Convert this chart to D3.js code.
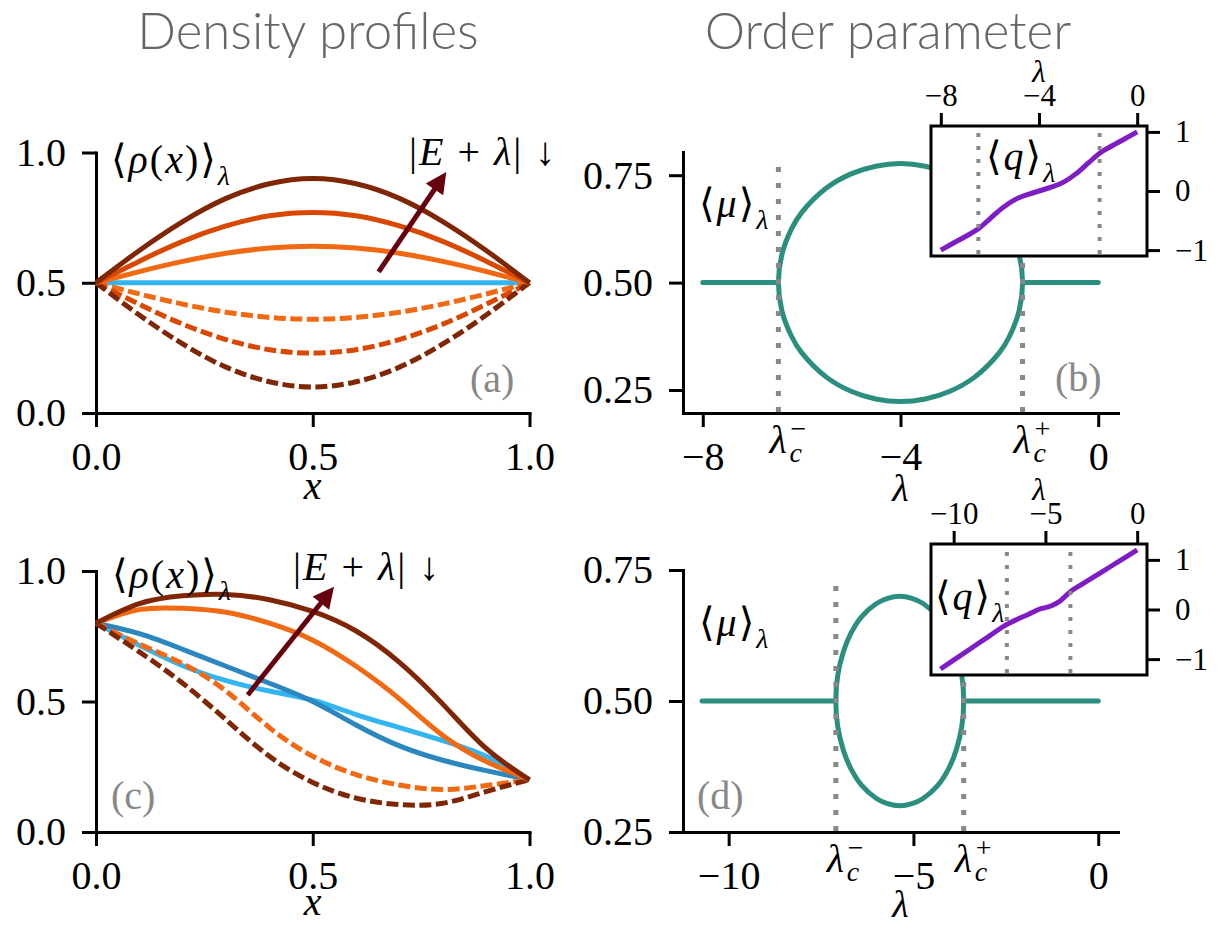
<!DOCTYPE html>
<html>
<head>
<meta charset="utf-8">
<script src="https://cdn.jsdelivr.net/npm/d3@7"></script>
<style>
body { margin: 0; background: #fff; }
svg text { white-space: pre; }
</style>
</head>
<body>
<svg width="1219" height="925"></svg>
<script>
var svg = d3.select("svg");
var serif = "'Liberation Serif', 'Times New Roman', 'DejaVu Serif', 'Noto Serif', serif";

// ---- data ----
// panels (a) and (c): density profiles on a grid of x
var xGrid = [0, 0.1, 0.2, 0.3, 0.4, 0.5, 0.6, 0.7, 0.8, 0.9, 1];

var rhoA_flat = [0.5, 0.5, 0.5, 0.5, 0.5, 0.5, 0.5, 0.5, 0.5, 0.5, 0.5];
var rhoA_up1 = [0.5, 0.543, 0.582, 0.613, 0.633, 0.64, 0.633, 0.613, 0.582, 0.543, 0.5];
var rhoA_up2 = [0.5, 0.583, 0.659, 0.718, 0.757, 0.77, 0.757, 0.718, 0.659, 0.583, 0.5];
var rhoA_up3 = [0.5, 0.624, 0.735, 0.824, 0.88, 0.9, 0.88, 0.824, 0.735, 0.624, 0.5];
var rhoA_dn1 = [0.5, 0.457, 0.418, 0.387, 0.367, 0.36, 0.367, 0.387, 0.418, 0.457, 0.5];
var rhoA_dn2 = [0.5, 0.417, 0.341, 0.282, 0.243, 0.23, 0.243, 0.282, 0.341, 0.417, 0.5];
var rhoA_dn3 = [0.5, 0.376, 0.265, 0.176, 0.12, 0.1, 0.12, 0.176, 0.265, 0.376, 0.5];

var rhoC_light = [0.8, 0.715, 0.637, 0.58, 0.54, 0.505, 0.45, 0.4, 0.35, 0.29, 0.2];
var rhoC_blue  = [0.8, 0.76, 0.7, 0.635, 0.57, 0.5, 0.41, 0.33, 0.275, 0.235, 0.2];
var rhoC_up1   = [0.8, 0.852, 0.857, 0.842, 0.8, 0.735, 0.635, 0.51, 0.37, 0.27, 0.2];
var rhoC_up2   = [0.8, 0.875, 0.905, 0.91, 0.89, 0.845, 0.77, 0.65, 0.49, 0.32, 0.2];
var rhoC_dn1   = [0.8, 0.72, 0.645, 0.54, 0.4, 0.29, 0.22, 0.18, 0.163, 0.178, 0.2];
var rhoC_dn2   = [0.8, 0.69, 0.57, 0.43, 0.29, 0.19, 0.13, 0.105, 0.11, 0.155, 0.2];

// arrows |E+lambda| decreasing: [tail, tip] in data units
var arrowA_x = [0.652, 0.808], arrowA_y = [0.542, 0.925];
var arrowC_x = [0.35, 0.549],  arrowC_y = [0.525, 0.94];

// panel (b): order parameter mu
var lamRangeB = [-8, 0];
var lamCritB = [-6.47, -1.53];
var loopLamB = [-6.47, -6.4, -6.2, -6, -5.5, -5, -4.5, -4, -3.5, -3, -2.5, -2, -1.8, -1.6, -1.53,
                -1.6, -1.8, -2, -2.5, -3, -3.5, -4, -4.5, -5, -5.5, -6, -6.2, -6.4];
var loopMuB  = [0.5, 0.565, 0.626, 0.663, 0.72, 0.753, 0.771, 0.777, 0.771, 0.753, 0.72, 0.663, 0.626, 0.565, 0.5,
                0.435, 0.374, 0.337, 0.28, 0.247, 0.229, 0.223, 0.229, 0.247, 0.28, 0.337, 0.374, 0.435];
var dotTopB = 0.785;
// inset (b): q
var qLamB = [-8, -7.5, -7, -6.47, -6, -5.5, -5, -4.5, -4, -3.5, -3, -2.5, -2, -1.53, -1, -0.5, 0];
var qValB = [-1, -0.885, -0.77, -0.64, -0.47, -0.29, -0.15, -0.065, 0, 0.065, 0.15, 0.29, 0.47, 0.64, 0.77, 0.885, 1];

// panel (d)
var lamRangeD = [-10.72, 0];
var lamCritD = [-7.1, -3.64];
var loopLamD = [-7.1, -7.05, -6.9, -6.7, -6.4, -6, -5.7, -5.37, -5.04, -4.74, -4.34, -4.04, -3.84, -3.69, -3.64,
                -3.69, -3.84, -4.04, -4.34, -4.74, -5.04, -5.37, -5.7, -6, -6.4, -6.7, -6.9, -7.05];
var loopMuD  = [0.5, 0.548, 0.593, 0.628, 0.661, 0.686, 0.696, 0.7, 0.696, 0.686, 0.661, 0.628, 0.593, 0.548, 0.5,
                0.452, 0.407, 0.372, 0.339, 0.314, 0.304, 0.3, 0.304, 0.314, 0.339, 0.372, 0.407, 0.452];
var dotTopD = 0.734;
var qLamD = [-10.72, -10, -9, -8, -7.1, -6.5, -6, -5.37, -4.7, -4.2, -3.64, -3, -2, -1, 0];
var qValD = [-1.2, -1.02, -0.77, -0.52, -0.3, -0.19, -0.11, 0, 0.07, 0.17, 0.36, 0.51, 0.74, 0.97, 1.2];

// tick values
var rhoTicks = [0, 0.5, 1];
var muTicks = [0.25, 0.5, 0.75];
var lamTicksB = [-8, -4, 0];
var lamTicksD = [-10, -5, 0];
var qTicks = [-1, 0, 1];

// ---- colours ----
var cDark = "#7f2704", cMid = "#d94801", cLight = "#f16913";
var cSky = "#33b5f2", cBlue = "#2b87bd", cTeal = "#2b8e7e", cPurple = "#7e1dc4";
var cDot = "#888888", cArrow = "#67000d";

// ---- helpers ----
function styleAxis(sel, fs) {
  sel.attr("font-family", null).attr("font-size", null);
  sel.select(".domain").attr("stroke-width", 3).attr("stroke-linecap", "square");
  sel.selectAll(".tick line").attr("stroke-width", 3);
  sel.selectAll(".tick text").style("font-family", serif).style("font-size", fs + "px").attr("fill", "#000");
}

function txt(x, y, s, fs) {
  return svg.append("text").attr("x", x).attr("y", y).style("font-family", serif)
    .style("font-size", fs + "px").text(s);
}

function frame(x, y, xt, xf, yt, yf) {
  svg.append("g")
    .attr("transform", "translate(0," + y.range()[0] + ")")
    .call(d3.axisBottom(x).tickValues(xt).tickFormat(xf).tickSizeInner(14).tickSizeOuter(0).tickPadding(15))
    .call(styleAxis, 40);
  svg.append("g")
    .attr("transform", "translate(" + x.range()[0] + ",0)")
    .call(d3.axisLeft(y).tickValues(yt).tickFormat(yf).tickSizeInner(14).tickSizeOuter(0).tickPadding(16))
    .call(styleAxis, 40);
}

function mathText(x, y, parts, fs, fill) {
  var t = svg.append("text").attr("x", x).attr("y", y).style("font-family", serif)
    .style("font-size", fs + "px").attr("fill", fill || "#000");
  parts.forEach(function(p) {
    var s = t.append("tspan").text(p.t);
    if (p.i) s.style("font-style", "italic");
    if (p.sub) s.attr("dy", fs * 0.3).style("font-size", (fs * 0.7) + "px");
  });
  return t;
}

function arrow(x, y, ax, ay) {
  var x0 = x(ax[0]), y0 = y(ay[0]), x1 = x(ax[1]), y1 = y(ay[1]);
  var dx = x1 - x0, dy = y1 - y0, L = Math.sqrt(dx * dx + dy * dy);
  var ux = dx / L, uy = dy / L, hl = 21, hw = 10.5;
  var bx = x1 - ux * hl, by = y1 - uy * hl;
  svg.append("line").attr("x1", x0).attr("y1", y0).attr("x2", bx + ux * 2).attr("y2", by + uy * 2)
    .attr("stroke", cArrow).attr("stroke-width", 5);
  svg.append("polygon")
    .attr("points", [[x1, y1], [bx - uy * hw, by + ux * hw], [bx + uy * hw, by - ux * hw]].join(" "))
    .attr("fill", cArrow);
}

function rhoPanel(x, y, series) {
  var line = d3.line().x(function(d, i) { return x(xGrid[i]); }).y(function(d) { return y(d); })
    .curve(d3.curveNatural);
  svg.append("g").selectAll("path")
    .data(series)
    .enter().append("path")
    .attr("d", function(s) { return line(s.v); })
    .attr("fill", "none")
    .attr("stroke", function(s) { return s.c; })
    .attr("stroke-width", 5)
    .attr("stroke-dasharray", function(s) { return s.dash ? "12,4.5" : null; });
}

function critLabel(px, y0, sign) {
  txt(px - 9, y0, "\u03bb", 40).style("font-style", "italic");
  txt(px + 11, y0 + 9, "c", 28).style("font-style", "italic");
  txt(px + 12, y0 - 15, sign, 28);
}

function muPanel(x, y, range, crit, loopLam, loopMu, dotTop, xt, labDy) {
  frame(x, y, xt, d3.format("d"), muTicks, d3.format(".2f"));
  var seg = d3.line().x(function(d) { return x(d[0]); }).y(function(d) { return y(d[1]); });
  [[[range[0], 0.5], [crit[0], 0.5]], [[crit[1], 0.5], [range[1], 0.5]]].forEach(function(s) {
    svg.append("path").attr("d", seg(s)).attr("fill", "none").attr("stroke", cTeal)
      .attr("stroke-width", 5).attr("stroke-linecap", "round");
  });
  var loop = d3.line().x(function(d, i) { return x(loopLam[i]); }).y(function(d) { return y(d); })
    .curve(d3.curveCatmullRomClosed.alpha(0.5));
  svg.append("path").attr("d", loop(loopMu)).attr("fill", "none").attr("stroke", cTeal).attr("stroke-width", 5);
  crit.forEach(function(c) {
    svg.append("line").attr("x1", x(c)).attr("x2", x(c)).attr("y1", y.range()[0] - 1).attr("y2", y(dotTop))
      .attr("stroke", cDot).attr("stroke-width", 5).attr("stroke-dasharray", "5,11");
  });
  critLabel(x(crit[0]), y.range()[0] + 40, "\u2212");
  critLabel(x(crit[1]), y.range()[0] + 40, "+");
  txt((x.range()[0] + x.range()[1]) / 2, y.range()[0] + labDy, "\u03bb", 38)
    .attr("text-anchor", "middle").style("font-style", "italic");
}

function inset(x, y, lam, q, crit, xt) {
  var x0 = x.range()[0], x1 = x.range()[1], yb = y.range()[0], yt = y.range()[1];
  svg.append("rect").attr("x", x0).attr("y", yt).attr("width", x1 - x0).attr("height", yb - yt).attr("fill", "#fff");
  var ln = d3.line().x(function(d, i) { return x(lam[i]); }).y(function(d) { return y(d); }).curve(d3.curveMonotoneX);
  svg.append("path").attr("d", ln(q)).attr("fill", "none").attr("stroke", cPurple).attr("stroke-width", 5);
  crit.forEach(function(c) {
    svg.append("line").attr("x1", x(c)).attr("x2", x(c)).attr("y1", yb - 2).attr("y2", y(d3.max(q)))
      .attr("stroke", cDot).attr("stroke-width", 4).attr("stroke-dasharray", "4,9");
  });
  svg.append("rect").attr("x", x0).attr("y", yt).attr("width", x1 - x0).attr("height", yb - yt)
    .attr("fill", "none").attr("stroke", "#000").attr("stroke-width", 3);
  var gt = svg.append("g").attr("transform", "translate(0," + yt + ")")
    .call(d3.axisTop(x).tickValues(xt).tickFormat(d3.format("d")).tickSizeInner(13).tickSizeOuter(0).tickPadding(7))
    .call(styleAxis, 31);
  gt.select(".domain").remove();
  var gr = svg.append("g").attr("transform", "translate(" + x1 + ",0)")
    .call(d3.axisRight(y).tickValues(qTicks).tickFormat(d3.format("d")).tickSizeInner(13).tickSizeOuter(0).tickPadding(15))
    .call(styleAxis, 31);
  gr.select(".domain").remove();
  txt((x0 + x1) / 2, yt - 44, "\u03bb", 31).attr("text-anchor", "middle").style("font-style", "italic");
}

// ---- titles ----
svg.append("text").attr("x", 308).attr("y", 49).attr("text-anchor", "middle")
  .style("font-family", "Lato").style("font-weight", 300).style("font-size", "51px").attr("fill", "#666")
  .text("Density profiles");
svg.append("text").attr("x", 888).attr("y", 49).attr("text-anchor", "middle")
  .style("font-family", "Lato").style("font-weight", 300).style("font-size", "51px").attr("fill", "#666")
  .text("Order parameter");

// ---- panel (a) ----
var xA = d3.scaleLinear().domain([0, 1]).range([96, 529.5]);
var yA = d3.scaleLinear().domain([0, 1]).range([413, 152.5]);
frame(xA, yA, rhoTicks, d3.format(".1f"), rhoTicks, d3.format(".1f"));
rhoPanel(xA, yA, [
  {v: rhoA_flat, c: cSky},
  {v: rhoA_dn1, c: cLight, dash: true},
  {v: rhoA_dn2, c: cMid, dash: true},
  {v: rhoA_dn3, c: cDark, dash: true},
  {v: rhoA_up1, c: cLight},
  {v: rhoA_up2, c: cMid},
  {v: rhoA_up3, c: cDark}
]);
arrow(xA, yA, arrowA_x, arrowA_y);
txt(xA(0.5), 499, "x", 40).attr("text-anchor", "middle").style("font-style", "italic");
var rhoLabel = [{t: "\u27e8"}, {t: "\u03c1", i: 1}, {t: "("}, {t: "x", i: 1}, {t: ")"}, {t: "\u27e9"}, {t: "\u03bb", i: 1, sub: 1}];
var eLabel = [{t: "|"}, {t: "E", i: 1}, {t: " + "}, {t: "\u03bb", i: 1}, {t: "| \u2193"}];
mathText(111, 173, rhoLabel, 40).style("letter-spacing", "2px");
mathText(409, 165, eLabel, 40).style("letter-spacing", "2px");
mathText(470, 392, [{t: "(a)"}], 40, "#888");

// ---- panel (c) ----
var yC = d3.scaleLinear().domain([0, 1]).range([832, 571]);
frame(xA, yC, rhoTicks, d3.format(".1f"), rhoTicks, d3.format(".1f"));
rhoPanel(xA, yC, [
  {v: rhoC_light, c: cSky},
  {v: rhoC_blue, c: cBlue},
  {v: rhoC_dn1, c: cLight, dash: true},
  {v: rhoC_dn2, c: cDark, dash: true},
  {v: rhoC_up1, c: cLight},
  {v: rhoC_up2, c: cDark}
]);
arrow(xA, yC, arrowC_x, arrowC_y);
txt(xA(0.5), 915, "x", 40).attr("text-anchor", "middle").style("font-style", "italic");
mathText(112, 588, rhoLabel, 40).style("letter-spacing", "2px");
mathText(293, 580, eLabel, 40).style("letter-spacing", "2px");
mathText(111, 809, [{t: "(c)"}], 40, "#888");

// ---- panel (b) ----
var xB = d3.scaleLinear().domain([-8.4, 0.4]).range([683, 1118]);
var yB = d3.scaleLinear().domain([0.1965, 0.804]).range([413, 152]);
muPanel(xB, yB, lamRangeB, lamCritB, loopLamB, loopMuB, dotTopB, lamTicksB, 88);
var muLabel = [{t: "\u27e8"}, {t: "\u03bc", i: 1}, {t: "\u27e9"}, {t: "\u03bb", i: 1, sub: 1}];
mathText(699, 217, muLabel, 40).style("letter-spacing", "2px");
mathText(1055, 391, [{t: "(b)"}], 40, "#888");
var xBi = d3.scaleLinear().domain([-8.4, 0.4]).range([931, 1147]);
var yBi = d3.scaleLinear().domain([-1.1, 1.1]).range([256, 126]);
inset(xBi, yBi, qLamB, qValB, lamCritB, lamTicksB);
var qLabel = [{t: "\u27e8"}, {t: "q", i: 1}, {t: "\u27e9"}, {t: "\u03bb", i: 1, sub: 1}];
mathText(986, 170, qLabel, 40).style("letter-spacing", "2px");

// ---- panel (d) ----
var xD = d3.scaleLinear().domain([-11.235, 0.535]).range([683, 1118]);
var yD = d3.scaleLinear().domain([0.25, 0.75]).range([832, 570]);
muPanel(xD, yD, lamRangeD, lamCritD, loopLamD, loopMuD, dotTopD, lamTicksD, 85);
mathText(699, 636, muLabel, 40).style("letter-spacing", "2px");
mathText(697, 809, [{t: "(d)"}], 40, "#888");
var xDi = d3.scaleLinear().domain([-11.235, 0.535]).range([931, 1147]);
var yDi = d3.scaleLinear().domain([-1.32, 1.32]).range([675, 544]);
inset(xDi, yDi, qLamD, qValD, lamCritD, lamTicksD);
mathText(935, 610, qLabel, 40).style("letter-spacing", "2px");
</script>
</body>
</html>
